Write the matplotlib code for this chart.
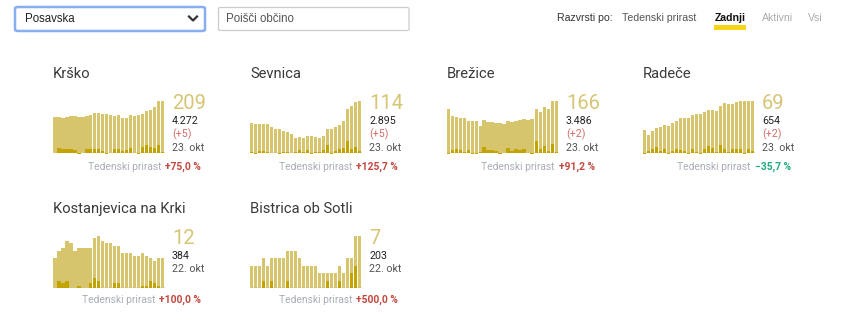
import matplotlib
matplotlib.use("Agg")
import matplotlib.pyplot as plt
from matplotlib.patches import FancyBboxPatch, Rectangle
from matplotlib.lines import Line2D

# ---------------- data ----------------
names = ["Krško", "Sevnica", "Brežice", "Radeče", "Kostanjevica na Krki", "Bistrica ob Sotli"]

krsko_active = [145, 145, 141, 145, 149, 149, 145, 145, 149, 153, 161, 161, 157, 157,
                153, 149, 153, 141, 141, 153, 149, 153, 157, 169, 173, 185, 209, 209]
krsko_new = [0, 20, 16, 16, 16, 12, -4, 0, 16, 16, 16, 16, 8, -4,
             0, 16, 16, 8, 12, 20, 0, -4, 24, 32, 24, 20, 32, 5]

sevnica_active = [66, 64, 64, 64, 64, 57, 53, 53, 48, 46, 42, 33, 35, 33,
                  37, 37, 35, 33, 37, 53, 53, 57, 61, 70, 96, 103, 112, 114]
sevnica_new = [2, -2, 4, 4, 2, 0, 0, -2, 2, 2, 0, 2, 7, 2,
               7, -2, 2, 2, 7, 18, -2, 4, 9, 11, 26, 9, 13, 5]

brezice_active = [140, 118, 115, 112, 112, 102, 102, 102, 86, 105, 99, 99, 96, 96,
                  93, 102, 99, 102, 105, 108, 105, 108, 140, 131, 147, 140, 166, 166]
brezice_new = [-2, 10, 13, 10, 3, 10, -2, -2, 3, 19, 10, 10, 6, -2,
               0, 16, 6, 13, 10, 13, 0, -2, 38, 13, 22, 6, 29, 2]

radece_active = [30, 24, 29, 33, 34, 37, 36, 40, 42, 46, 46, 46, 50, 52,
                 52, 54, 57, 57, 56, 62, 66, 65, 65, 68, 69, 69, 69, 69]
radece_new = [-1, 3, 5, 8, 3, 5, -1, 3, 5, 4, 3, -1, 5, 1,
              -1, 5, 9, 7, 1, 11, 5, 1, 5, 5, 5, -1, 5, 2]

kostanjevica_active = [12, 15, 16, 19, 18, 15, 16, 16, 16, 16, 20, 21, 19, 18,
                       18, 17, 17, 14, 14, 14, 13, 13, 14, 13, 12, 11, 12, 12]
kostanjevica_new = [0, 3, 2, 3, 0, 0, 1, 0, 0, 2, 4, 3, 0, 0,
                    0, 2, 2, 0, 0, 0, 0, 0, 1, 1, 3, 2, 1, 0]

bistrica_active = [3, 3, 3, 4, 3, 4, 4, 4, 4, 5, 5, 5, 4, 3,
                   3, 3, 3, 2, 2, 2, 2, 2, 3, 2, 4, 4, 7, 7]
bistrica_new = [0, 0, 0, 1, 0, 1, 0, 0, 0, 1, 0, 0, 0, 0,
                0, 0, 0, 0, 0, 1, 0, 0, 1, 0, 0, 2, 3, 0]

latest_active = ["209", "114", "166", "69", "12", "7"]
totals = ["4.272", "2.895", "3.486", "654", "384", "203"]
today_new = ["(+5)", "(+5)", "(+2)", "(+2)", None, None]
dates = ["23. okt", "23. okt", "23. okt", "23. okt", "22. okt", "22. okt"]
weekly_growth = ["+75,0 %", "+125,7 %", "+91,2 %", "−35,7 %", "+100,0 %", "+500,0 %"]

region = "Posavska"
search_placeholder = "Poišči občino"
sort_label = "Razvrsti po:"
sort_options = ["Tedenski prirast", "Zadnji", "Aktivni", "Vsi"]

active_series = [krsko_active, sevnica_active, brezice_active, radece_active,
                 kostanjevica_active, bistrica_active]
new_series = [krsko_new, sevnica_new, brezice_new, radece_new,
              kostanjevica_new, bistrica_new]

# ---------------- style / layout ----------------
W, H = 850, 332
LIGHT = "#d6c56c"
DARK = "#c2a300"
BIG = "#d6c574"
RED = "#c2473d"
RED_LIGHT = "#cf6f66"
GREEN = "#1faa7e"
FONT = ["Roboto", "DejaVu Sans"]
UIFONT = ["Liberation Sans", "DejaVu Sans"]

col_x = [53, 250, 447, 643]
row_base = [153, 288]
positions = [(col_x[0], 0), (col_x[1], 0), (col_x[2], 0), (col_x[3], 0),
             (col_x[0], 1), (col_x[1], 1)]
merged = {0: range(0, 9), 2: range(9, 22), 4: range(0, 9)}

plt.rcParams["font.family"] = FONT
fig = plt.figure(figsize=(W / 100, H / 100), dpi=100)
fig.patch.set_facecolor("white")


def fx(x):
    return x / W


def fy(y):
    return 1 - y / H


def txt(x, y, s, **kw):
    kw.setdefault("va", "center")
    return fig.text(fx(x), fy(y), s, **kw)


# ---------------- top UI ----------------
box1 = FancyBboxPatch((fx(15), fy(31)), fx(205) - fx(15), fy(7) - fy(31),
                      boxstyle="round,pad=0,rounding_size=0.004",
                      transform=fig.transFigure, facecolor="white",
                      edgecolor="#86aef0", linewidth=1.8)
fig.patches.append(box1)
txt(25, 19.5, region, fontsize=8.3, color="#222222", family=UIFONT)
fig.lines.append(Line2D([fx(189), fx(193), fx(197)], [fy(16.5), fy(20.5), fy(16.5)],
                        transform=fig.transFigure, color="#333333", linewidth=1.6))
box2 = FancyBboxPatch((fx(218.5), fy(30.5)), fx(409) - fx(218.5), fy(7.5) - fy(30.5),
                      boxstyle="round,pad=0,rounding_size=0.003",
                      transform=fig.transFigure, facecolor="white",
                      edgecolor="#cccccc", linewidth=0.9)
fig.patches.append(box2)
txt(226, 19.5, search_placeholder, fontsize=8.3, color="#555555", family=UIFONT)

fig.patches.append(Rectangle((fx(713.5), fy(29.5)), fx(746) - fx(713.5), fy(24.5) - fy(29.5),
                             transform=fig.transFigure, facecolor="#f7d417", edgecolor="none"))
txt(557, 18, sort_label, fontsize=7.6, color="#333333", family=UIFONT)
sort_x = [622, 715, 762, 808]
sort_colors = ["#555555", "#111111", "#aaaaaa", "#aaaaaa"]
sort_weights = ["normal", "bold", "normal", "normal"]
for s, x, c, w in zip(sort_options, sort_x, sort_colors, sort_weights):
    txt(x, 18, s, fontsize=7.6, color=c, weight=w, family=UIFONT)

# ---------------- small multiples ----------------
fig.canvas.draw()
renderer = fig.canvas.get_renderer()
for k in range(6):
    left, row = positions[k]
    base = row_base[row]
    act = active_series[k]
    new = new_series[k]
    n = len(act)
    ax = fig.add_axes([fx(left - 0.5), fy(base), 112 / W, 52 / H])
    widths = [1.0 if (k in merged and i in merged[k]) else 0.75 for i in range(n)]
    xs = list(range(n))
    ax.axhline(0, color="#e2e2e2", linewidth=1.5, zorder=0)
    ax.bar(xs, act, width=widths, color=LIGHT, linewidth=0, zorder=1)
    bars = ax.bar(xs, new, width=widths, color=DARK, linewidth=0, zorder=2)
    for b in bars:
        b.set_clip_on(False)
    ax.set_xlim(-0.5, n - 0.5)
    ax.set_ylim(0, max(act))
    ax.axis("off")

    right = left + 111
    title_y = 74 if row == 0 else 209
    txt(left, title_y, names[k], fontsize=10.6, color="#3a3a3a")
    tx = right + 8
    if row == 0:
        y_big, y_tot, y_new, y_date, y_w = 103, 121, 134, 148, 167
    else:
        y_big, y_tot, y_new, y_date, y_w = 238, 256, None, 269, 300
    txt(tx, y_big, latest_active[k], fontsize=14.5, color=BIG)
    txt(tx, y_tot, totals[k], fontsize=7.7, color="#222222")
    if today_new[k] is not None and y_new is not None:
        txt(tx, y_new, today_new[k], fontsize=7.7, color=RED_LIGHT)
    txt(tx, y_date, dates[k], fontsize=7.7, color="#555555")
    gcol = GREEN if weekly_growth[k].startswith("−") else RED
    t = txt(right + 37, y_w, weekly_growth[k], fontsize=7.4, color=gcol,
            weight="bold", ha="right")
    bb = t.get_window_extent(renderer=renderer)
    fig.text(bb.x0 / W - 4 / W, fy(y_w), "Tedenski prirast", fontsize=7.4,
             color="#a9adb8", ha="right", va="center")

fig.savefig("out.png", dpi=100, facecolor="white")
